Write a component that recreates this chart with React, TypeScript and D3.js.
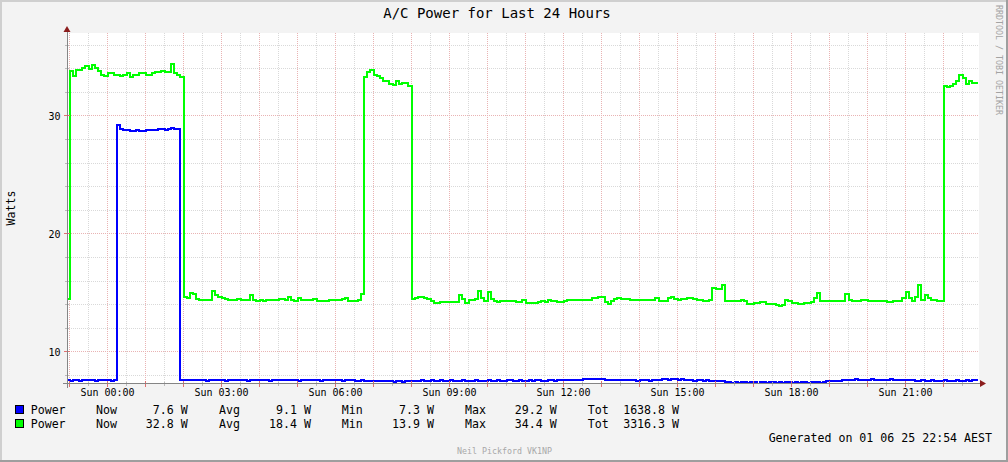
import * as d3 from "d3";

const W = 1008;
const H = 462;
const FONT = "'DejaVu Sans Mono', monospace";

const title = "A/C Power for Last 24 Hours";
const yLabel = "Watts";
const watermark = "RRDTOOL / TOBI OETIKER";
const footer = "Neil Pickford VK1NP";
const generated = "Generated on 01 06 25 22:54 AEST";

// minutes relative to Sun 00:00
const START_MIN = -65;
const STEP_MIN = 5;
const xLabelHours = [0, 3, 6, 9, 12, 15, 18, 21];
const xLabels = ["Sun 00:00", "Sun 03:00", "Sun 06:00", "Sun 09:00", "Sun 12:00", "Sun 15:00", "Sun 18:00", "Sun 21:00"];
const yMajor = [10, 20, 30];
const yMinor = [8, 12, 14, 16, 18, 22, 24, 26, 28, 32, 34, 36];

const seriesNames = ["Power", "Power"];
const seriesColors = ["#0000FF", "#00FF00"];
const statNames = ["Now", "Avg", "Min", "Max", "Tot"];
const blueStats = ["7.6 W", "9.1 W", "7.3 W", "29.2 W", "1638.8 W"];
const greenStats = ["32.8 W", "18.4 W", "13.9 W", "34.4 W", "3316.3 W"];

// blue series, 5 minute samples
const blueValues = [
  7.6, 7.55, 7.6, 7.6, 7.55, 7.6, 7.6, 7.6, 7.6, 7.55, 7.6, 7.6, 7.6, 7.6, 7.55, 7.6,
  29.2, 28.9, 28.8, 28.8, 28.7, 28.7, 28.8, 28.7, 28.7, 28.8, 28.8, 28.8, 28.8, 28.9, 28.9, 28.8, 28.9, 29.0, 28.9, 28.9,
  7.6, 7.6, 7.6, 7.65, 7.6, 7.6, 7.6, 7.6, 7.55, 7.6, 7.6, 7.6,
  7.6, 7.6, 7.55, 7.6, 7.6, 7.6, 7.6, 7.6, 7.6, 7.55, 7.6, 7.6,
  7.6, 7.6, 7.6, 7.6, 7.55, 7.6, 7.6, 7.6, 7.6, 7.6, 7.6, 7.6,
  7.6, 7.55, 7.6, 7.6, 7.6, 7.6, 7.6, 7.6, 7.55, 7.6, 7.6, 7.6,
  7.6, 7.6, 7.6, 7.55, 7.6, 7.6, 7.6, 7.55, 7.55, 7.6, 7.55, 7.55,
  7.55, 7.55, 7.5, 7.55, 7.55,
  7.5, 7.5, 7.45, 7.5, 7.5, 7.45, 7.5, 7.5, 7.5, 7.5,
  7.55, 7.6, 7.55, 7.55, 7.6, 7.55, 7.55, 7.6, 7.55, 7.55, 7.6, 7.55,
  7.55, 7.55, 7.6, 7.55, 7.55, 7.55, 7.6, 7.55, 7.55, 7.55, 7.6, 7.55,
  7.55, 7.6, 7.55, 7.55, 7.6, 7.6, 7.55, 7.55, 7.6, 7.55, 7.55, 7.6,
  7.55, 7.6, 7.6, 7.55, 7.55, 7.6, 7.6, 7.55, 7.6, 7.6, 7.6, 7.6,
  7.6, 7.65, 7.6, 7.65,
  7.7, 7.7, 7.75, 7.7, 7.7, 7.75, 7.7, 7.65,
  7.6, 7.65, 7.6, 7.6, 7.65, 7.6, 7.6, 7.6, 7.6, 7.55, 7.6, 7.6, 7.6, 7.55, 7.6, 7.6, 7.65,
  7.7, 7.7, 7.65, 7.7, 7.7, 7.65, 7.7, 7.6,
  7.6, 7.6, 7.55, 7.6, 7.6, 7.55, 7.6, 7.55, 7.55, 7.5, 7.55, 7.5,
  7.45, 7.45, 7.4, 7.45, 7.35, 7.45, 7.45, 7.4, 7.45, 7.45, 7.3, 7.45,
  7.45, 7.4, 7.45, 7.45, 7.35, 7.45, 7.4, 7.45, 7.45, 7.4, 7.45, 7.35,
  7.45, 7.45, 7.4, 7.45, 7.45, 7.45, 7.4, 7.45, 7.5, 7.5,
  7.55, 7.55, 7.55, 7.6,
  7.65, 7.65, 7.65, 7.7, 7.65, 7.65, 7.65, 7.65, 7.7, 7.65, 7.65, 7.65,
  7.65, 7.65, 7.7, 7.65, 7.65, 7.65, 7.65, 7.6, 7.65,
  7.6, 7.55, 7.55, 7.6, 7.55, 7.55, 7.6, 7.55, 7.55, 7.55, 7.6, 7.55,
  7.55, 7.55, 7.6, 7.55, 7.55, 7.6, 7.55, 7.6, 7.6,
];

// green series, 5 minute samples
const greenValues = [
  14.5,
  33.8, 33.4, 33.9, 33.9, 34.1, 34.2, 34.0, 34.3, 34.1, 33.8, 33.5, 33.4,
  33.6, 33.6, 33.5, 33.5, 33.4, 33.5, 33.6, 33.3, 33.5, 33.5, 33.6, 33.6,
  33.5, 33.5, 33.6, 33.7, 33.7, 33.8, 33.7, 33.7, 34.4, 33.6, 33.5, 33.3,
  14.7, 14.6, 15.0, 14.9, 14.5, 14.4, 14.4, 14.4, 14.4, 15.2, 14.8, 14.7,
  14.6, 14.5, 14.4, 14.4, 14.4, 14.5, 14.4, 14.4, 14.4, 14.8, 14.4, 14.3,
  14.4, 14.3, 14.4, 14.4, 14.4, 14.4, 14.5, 14.5, 14.4, 14.7, 14.4, 14.3,
  14.6, 14.4, 14.4, 14.4, 14.4, 14.5, 14.3, 14.3, 14.3, 14.3, 14.4, 14.4,
  14.4, 14.4, 14.5, 14.6, 14.3, 14.3, 14.3, 14.4, 14.9,
  33.3, 33.7, 33.9, 33.5, 33.4, 33.2, 33.0, 33.0, 32.7, 32.6, 33.0, 32.7, 32.8, 32.8, 32.5,
  14.5, 14.6, 14.7, 14.7, 14.6, 14.5, 14.3, 14.15, 14.15, 14.2, 14.2, 14.2,
  14.2, 14.2, 14.2, 14.8, 14.5, 14.15, 14.4, 14.4, 14.5, 15.2, 14.6, 14.3,
  15.1, 14.5, 14.3, 14.2, 14.3, 14.3, 14.3, 14.3, 14.3, 14.2, 14.2, 14.4,
  14.15, 14.15, 14.15, 14.15, 14.2, 14.3, 14.2, 14.4, 14.3, 14.3, 14.25, 14.25,
  14.3, 14.4, 14.4, 14.4, 14.4, 14.4, 14.4, 14.4, 14.4, 14.6, 14.6, 14.7,
  14.7, 14.2, 14.1, 14.3, 14.5, 14.6, 14.5, 14.5, 14.5, 14.4, 14.4, 14.4,
  14.4, 14.4, 14.4, 14.4, 14.4, 14.6, 14.3, 14.3, 14.3, 14.6, 14.7, 14.5,
  14.4,
  14.45, 14.45, 14.55, 14.6, 14.45, 14.4, 14.4, 14.35, 14.3, 14.4, 15.4, 15.3,
  15.3, 15.7, 14.3, 14.3, 14.35, 14.3, 14.3, 14.4, 14.3, 14.1, 14.1, 14.15,
  14.15, 14.2, 14.2, 14.1, 14.1, 14.1, 14.0, 13.9, 14.0, 14.4, 14.3, 14.15,
  14.15, 14.05, 14.05, 14.15, 14.15, 14.2, 14.6, 15.0, 14.3, 14.3, 14.3, 14.3,
  14.3, 14.3, 14.3, 14.3, 14.95, 14.4, 14.35, 14.35, 14.35, 14.4, 14.4, 14.3,
  14.3, 14.3, 14.3, 14.35, 14.35, 14.25, 14.25, 14.35, 14.35, 14.35, 14.55, 15.1,
  14.55, 14.3, 14.7, 15.7, 14.4, 14.85, 14.6, 14.4, 14.4, 14.35, 14.35,
  32.55, 32.45, 32.5, 32.75, 33.0, 33.5, 33.2, 32.75, 33.0, 32.8, 32.8,
];

const series = [blueValues, greenValues];

export default function App() {
  const left = 67;
  const right = 979;
  const top = 33;
  const bottom = 383.5;

  const x = d3.scaleLinear().domain([-64, 1376]).range([left, right]);
  const y = d3.scaleLinear().domain([7.33, 37.03]).range([bottom, top]);

  const minorX = d3.range(-30, 1376, 60);
  const majorX = d3.range(-60, 1376, 60);

  const line = d3
    .line<number>()
    .x((_, i) => x(START_MIN + i * STEP_MIN))
    .y((d) => y(d))
    .curve(d3.curveStepAfter);

  const minorColor = "#d9d9d9";
  const majorColor = "#e9b3b3";
  const axisColor = "#858585";
  const arrowColor = "#8b1c1c";

  const statLabelX = [96, 219, 341.7, 465, 587.7];
  const statValueX = [187.7, 311, 434, 556.7, 679];
  const rowY = [413.5, 427.5];
  const allStats = [blueStats, greenStats];
  const fs = 11.6;

  return (
    <svg
      width={W}
      height={H}
      style={{ position: "fixed", left: 0, top: 0, display: "block" }}
      fontFamily={FONT}
    >
      <defs>
        <clipPath id="plot">
          <rect x={left} y={top} width={right - left} height={bottom - top} />
        </clipPath>
      </defs>
      {/* canvas with shaded border */}
      <rect x={0} y={0} width={W} height={H} fill="#f3f3f3" />
      <rect x={0} y={0} width={W} height={2} fill="#cfcfcf" />
      <rect x={0} y={0} width={2} height={H} fill="#cfcfcf" />
      <rect x={0} y={H - 2} width={W} height={2} fill="#9e9e9e" />
      <rect x={W - 2} y={0} width={2} height={H} fill="#9e9e9e" />

      <rect x={left} y={top} width={right - left} height={bottom - top} fill="#ffffff" />

      {/* grid */}
      <g shapeRendering="crispEdges" strokeDasharray="1,1" strokeWidth={1}>
        {minorX.map((t) => (
          <line key={"mx" + t} x1={x(t)} x2={x(t)} y1={top} y2={bottom} stroke={minorColor} />
        ))}
        {yMinor.map((v) => (
          <line key={"my" + v} x1={left} x2={right} y1={y(v)} y2={y(v)} stroke={minorColor} />
        ))}
        {majorX.map((t) => (
          <line key={"Mx" + t} x1={x(t)} x2={x(t)} y1={top} y2={bottom} stroke={majorColor} />
        ))}
        {yMajor.map((v) => (
          <line key={"My" + v} x1={left} x2={right} y1={y(v)} y2={y(v)} stroke={majorColor} />
        ))}
      </g>

      {/* data */}
      <g clipPath="url(#plot)">
        {series.map((vals, k) => (
          <path
            key={k}
            d={line([...vals, vals[vals.length - 1]]) || ""}
            fill="none"
            stroke={seriesColors[k]}
            strokeWidth={2}
            shapeRendering="crispEdges"
          />
        ))}
      </g>

      {/* ticks */}
      <g shapeRendering="crispEdges" strokeWidth={1}>
        {minorX.map((t) => (
          <line key={"tmx" + t} x1={x(t)} x2={x(t)} y1={bottom - 2} y2={bottom + 2} stroke="#bbbbbb" />
        ))}
        {majorX.map((t) => (
          <line key={"tMx" + t} x1={x(t)} x2={x(t)} y1={bottom - 3} y2={bottom + 3} stroke="#e07070" />
        ))}
        {yMinor.map((v) => (
          <line key={"tmy" + v} x1={left - 2} x2={left + 2} y1={y(v)} y2={y(v)} stroke="#bbbbbb" />
        ))}
        {yMajor.map((v) => (
          <line key={"tMy" + v} x1={left - 3} x2={left + 3} y1={y(v)} y2={y(v)} stroke="#e07070" />
        ))}
      </g>

      {/* axes */}
      <g shapeRendering="crispEdges">
        <line x1={left} x2={left} y1={top - 2} y2={bottom + 4} stroke={axisColor} />
        <line x1={left - 4} x2={right + 2} y1={bottom} y2={bottom} stroke={axisColor} />
      </g>
      <path d={`M${left - 3.5},${top - 1} L${left + 3.5},${top - 1} L${left},${top - 7} Z`} fill={arrowColor} />
      <path d={`M${right + 1},${bottom - 3.5} L${right + 1},${bottom + 3.5} L${right + 7},${bottom} Z`} fill={arrowColor} />

      {/* axis labels */}
      {xLabelHours.map((h, i) => (
        <text key={h} x={x(h * 60)} y={395.5} fontSize={10} textAnchor="middle" fill="#000">
          {xLabels[i]}
        </text>
      ))}
      {yMajor.map((v) => (
        <text key={v} x={60.5} y={y(v) + 3.6} fontSize={10} textAnchor="end" fill="#000">
          {v}
        </text>
      ))}
      <text
        transform="translate(15,208) rotate(-90)"
        fontSize={fs}
        textAnchor="middle"
        fill="#000"
      >
        {yLabel}
      </text>

      <text x={497} y={18} fontSize={14} textAnchor="middle" fill="#000">
        {title}
      </text>
      <text
        transform="translate(996,60) rotate(90)"
        fontSize={8.3}
        textAnchor="middle"
        fill="#a3a3a3"
      >
        {watermark}
      </text>

      {/* legend */}
      {seriesNames.map((name, r) => (
        <g key={r}>
          <rect
            x={15.5}
            y={rowY[r] - 8.5}
            width={8}
            height={8}
            fill={seriesColors[r]}
            stroke="#000"
            shapeRendering="crispEdges"
          />
          <text x={30.7} y={rowY[r]} fontSize={fs} fill="#000">
            {name}
          </text>
          {statNames.map((s, j) => (
            <g key={s}>
              <text x={statLabelX[j]} y={rowY[r]} fontSize={fs} fill="#000">
                {s}
              </text>
              <text x={statValueX[j]} y={rowY[r]} fontSize={fs} textAnchor="end" fill="#000">
                {allStats[r][j]}
              </text>
            </g>
          ))}
        </g>
      ))}

      <text x={992} y={441.5} fontSize={fs} textAnchor="end" fill="#000">
        {generated}
      </text>
      <text x={504.5} y={454} fontSize={8.3} textAnchor="middle" fill="#a8a8a8">
        {footer}
      </text>
    </svg>
  );
}
